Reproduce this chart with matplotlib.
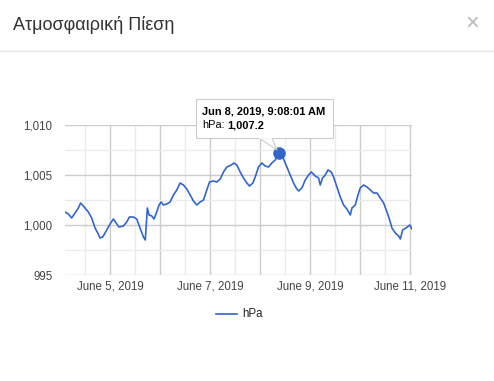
import numpy as np
import pandas as pd
import matplotlib
matplotlib.use("Agg")
import matplotlib.pyplot as plt
import matplotlib.dates as mdates
from matplotlib.patches import FancyBboxPatch, Polygon
from matplotlib.lines import Line2D
from matplotlib.ticker import FuncFormatter, FixedLocator

plt.rcParams['font.family'] = ['Liberation Sans', 'DejaVu Sans']

# ---------------------------
# DATA
# ---------------------------
start = pd.Timestamp("2019-06-04 00:00")
hours = [2.4, 4.0, 5.6, 7.2, 8.8, 9.9, 12.0, 13.6, 15.2, 16.8, 18.1, 19.2, 20.5,
         21.6, 23.2, 24.3, 25.6, 26.9, 28.3, 30.4, 32.0, 33.3, 35.2, 36.8, 38.4,
         40.0, 40.9, 41.9, 42.7, 44.0, 45.1, 46.4, 47.5, 48.5, 49.6, 51.2, 52.8,
         54.4, 56.0, 57.6, 59.2, 60.8, 62.4, 64.0, 65.6, 67.2, 68.8, 70.4, 71.7,
         73.6, 75.2, 76.8, 78.4, 80.0, 82.1, 83.5, 84.8, 86.4, 88.0, 89.6, 90.9,
         92.5, 93.6, 95.2, 96.8, 98.4, 100.0, 101.6, 103.2, 105.1, 107.2, 108.8,
         110.4, 112.0, 113.3, 114.4, 116.0, 117.6, 119.2, 120.5, 122.4, 124.0,
         124.8, 125.9, 127.2, 128.5, 130.1, 131.2, 132.8, 134.4, 136.0, 137.6,
         139.2, 140.0, 141.6, 142.9, 144.0, 145.6, 147.2, 148.8, 150.4, 152.0,
         153.6, 155.2, 156.8, 158.1, 159.2, 160.8, 162.4, 163.2, 164.3, 165.9,
         167.7, 168.8]
hpa = [1001.3, 1001.1, 1000.7, 1001.2, 1001.7, 1002.2, 1001.7, 1001.3, 1000.7,
       999.7, 999.2, 998.7, 998.8, 999.2, 999.8, 1000.2, 1000.6, 1000.2, 999.8,
       999.9, 1000.3, 1000.8, 1000.8, 1000.6, 999.7, 998.8, 998.5, 1001.7,
       1001.0, 1000.9, 1000.6, 1001.3, 1002.0, 1002.3, 1002.0, 1002.1, 1002.3,
       1003.0, 1003.5, 1004.2, 1004.0, 1003.6, 1003.0, 1002.4, 1002.0, 1002.3,
       1002.5, 1003.5, 1004.3, 1004.4, 1004.3, 1004.6, 1005.3, 1005.8, 1006.0,
       1006.2, 1006.0, 1005.3, 1004.7, 1004.2, 1003.9, 1004.2, 1004.8, 1005.8,
       1006.2, 1005.9, 1005.8, 1006.2, 1006.5, 1007.2, 1006.6, 1005.8, 1005.0,
       1004.2, 1003.7, 1003.4, 1003.7, 1004.5, 1005.0, 1005.3, 1004.9, 1004.7,
       1004.0, 1004.7, 1005.0, 1005.5, 1005.3, 1004.8, 1003.8, 1002.8, 1002.0,
       1001.6, 1001.0, 1001.7, 1002.0, 1003.0, 1003.7, 1004.0, 1003.8, 1003.5,
       1003.2, 1003.2, 1002.7, 1002.2, 1001.3, 1000.5, 999.7, 999.2, 998.9,
       998.6, 999.5, 999.7, 1000.0, 999.6]

times = start + pd.to_timedelta(hours, unit="h")

y_ticks = [995, 1000, 1005, 1010]
y_minor = [997.5, 1002.5, 1007.5]
day_ticks = pd.date_range("2019-06-05", "2019-06-11", freq="D")
day_labels = ["June 5, 2019", "", "June 7, 2019", "", "June 9, 2019", "", "June 11, 2019"]
half_days = pd.date_range("2019-06-04 12:00", "2019-06-10 12:00", freq="D")

hl_time = pd.Timestamp("2019-06-08 09:08:01")
hl_value = 1007.2
title = "Ατμοσφαιρική Πίεση"
series_name = "hPa"
line_color = "#3366cc"

# ---------------------------
# FIGURE
# ---------------------------
W, H = 494, 381
fig = plt.figure(figsize=(W / 100, H / 100), dpi=100)

def px(x, y):
    # pixel coords (from top-left) -> figure fraction
    return x / W, 1 - y / H

# header
fig.text(*px(13, 25), title, fontsize=13, color="#333333", va="center", ha="left")
fig.text(*px(472, 24), "\u00d7", fontsize=17, color="#bbbbbb", va="center", ha="center")
fig.add_artist(Line2D([0, 1], [1 - 51 / H] * 2, color="#e5e5e5", lw=1))

# plot area
x0, x1, yt, yb = 65, 412, 125, 275
ax = fig.add_axes([x0 / W, 1 - yb / H, (x1 - x0) / W, (yb - yt) / H])
ax.plot(times, hpa, color=line_color, lw=1.2, zorder=3)
ax.set_xlim(times[0], times[-1])
ax.set_ylim(995, 1010)

ax.yaxis.set_major_locator(FixedLocator(y_ticks))
ax.yaxis.set_minor_locator(FixedLocator(y_minor))
ax.yaxis.set_major_formatter(FuncFormatter(lambda v, p: f"{v:,.0f}"))
ax.xaxis.set_major_locator(FixedLocator(mdates.date2num(day_ticks)))
ax.xaxis.set_minor_locator(FixedLocator(mdates.date2num(half_days)))
ax.set_xticklabels(day_labels)

ax.grid(which="major", color="#cccccc", lw=1)
ax.grid(which="minor", color="#ebebeb", lw=1)
ax.set_axisbelow(True)
ax.tick_params(which="both", length=0, labelsize=8.3, colors="#444444")
ax.tick_params(axis="y", pad=9)
ax.tick_params(axis="x", pad=4)
for s in ax.spines.values():
    s.set_visible(False)

# highlighted point + tooltip
ax.plot([hl_time], [hl_value], "o", color=line_color, ms=8, zorder=4, clip_on=False)

bx0, by0, bx1, by1 = 196, 99, 333, 138
tip = Polygon([px(259, by1), px(272, by1), px(277, 150)], closed=True,
              facecolor="white", edgecolor="#cccccc", lw=0.8, zorder=5)
fig.add_artist(tip)
box = FancyBboxPatch(px(bx0, by1), (bx1 - bx0) / W, (by1 - by0) / H,
                     boxstyle="square,pad=0", facecolor="white",
                     edgecolor="#cccccc", lw=0.8, zorder=6)
fig.add_artist(box)
fig.add_artist(Line2D([px(260, by1)[0], px(271, by1)[0]], [px(0, by1)[1]] * 2,
                      color="white", lw=1.2, zorder=7))
fig.text(*px(202, 111), hl_time.strftime("Jun %-d, %Y, %-I:%M:%S %p"),
         fontsize=7.9, fontweight="bold", color="#000000", va="center", zorder=8)
t1 = fig.text(*px(202, 125), f"{series_name}:", fontsize=7.9, color="#000000",
              va="center", zorder=8)
r = fig.canvas.get_renderer()
lab_w = t1.get_window_extent(renderer=r).width
fig.text((202 + lab_w + 3) / W, 1 - 125 / H, f"{hl_value:,.1f}", fontsize=7.9,
         fontweight="bold", color="#000000", va="center", zorder=8)

# legend
fig.add_artist(Line2D([216 / W, 237 / W], [1 - 314 / H] * 2, color=line_color, lw=1.2))
fig.text(*px(242, 314), series_name, fontsize=8.3, color="#222222", va="center")

fig.savefig("out.png", dpi=100)
